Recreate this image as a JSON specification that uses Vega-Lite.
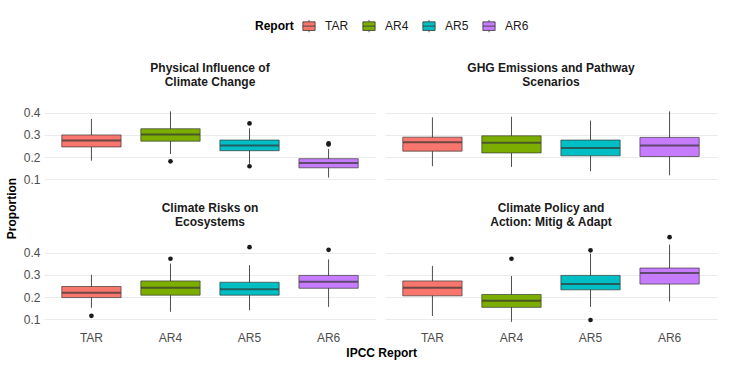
{
  "$schema": "https://vega.github.io/schema/vega-lite/v6.json",
  "background": "white",
  "padding": {"left": 6, "right": 8, "top": 19, "bottom": 6},
  "title": {"text": "IPCC Report", "orient": "bottom", "anchor": "middle", "font": "Liberation Sans", "fontSize": 12, "fontWeight": "bold", "color": "#000000", "offset": 5, "dx": 20},
  "data": {"values": [
    {"type":"box","panel":"Physical Influence of Climate Change","report":"TAR","lo":0.184,"q1":0.246,"med":0.275,"q3":0.300,"hi":0.372},
    {"type":"box","panel":"Physical Influence of Climate Change","report":"AR4","lo":0.214,"q1":0.272,"med":0.302,"q3":0.328,"hi":0.406},
    {"type":"box","panel":"Physical Influence of Climate Change","report":"AR5","lo":0.170,"q1":0.229,"med":0.253,"q3":0.277,"hi":0.330},
    {"type":"box","panel":"Physical Influence of Climate Change","report":"AR6","lo":0.108,"q1":0.152,"med":0.174,"q3":0.193,"hi":0.237},
    {"type":"box","panel":"GHG Emissions and Pathway Scenarios","report":"TAR","lo":0.159,"q1":0.227,"med":0.267,"q3":0.290,"hi":0.379},
    {"type":"box","panel":"GHG Emissions and Pathway Scenarios","report":"AR4","lo":0.156,"q1":0.219,"med":0.265,"q3":0.296,"hi":0.382},
    {"type":"box","panel":"GHG Emissions and Pathway Scenarios","report":"AR5","lo":0.137,"q1":0.206,"med":0.241,"q3":0.277,"hi":0.365},
    {"type":"box","panel":"GHG Emissions and Pathway Scenarios","report":"AR6","lo":0.118,"q1":0.203,"med":0.252,"q3":0.289,"hi":0.406},
    {"type":"box","panel":"Climate Risks on Ecosystems","report":"TAR","lo":0.152,"q1":0.198,"med":0.220,"q3":0.248,"hi":0.301},
    {"type":"box","panel":"Climate Risks on Ecosystems","report":"AR4","lo":0.134,"q1":0.209,"med":0.242,"q3":0.273,"hi":0.351},
    {"type":"box","panel":"Climate Risks on Ecosystems","report":"AR5","lo":0.141,"q1":0.209,"med":0.236,"q3":0.267,"hi":0.344},
    {"type":"box","panel":"Climate Risks on Ecosystems","report":"AR6","lo":0.156,"q1":0.240,"med":0.269,"q3":0.298,"hi":0.370},
    {"type":"box","panel":"Climate Policy and Action: Mitig & Adapt","report":"TAR","lo":0.115,"q1":0.206,"med":0.242,"q3":0.273,"hi":0.341},
    {"type":"box","panel":"Climate Policy and Action: Mitig & Adapt","report":"AR4","lo":0.089,"q1":0.154,"med":0.184,"q3":0.212,"hi":0.295},
    {"type":"box","panel":"Climate Policy and Action: Mitig & Adapt","report":"AR5","lo":0.156,"q1":0.233,"med":0.259,"q3":0.298,"hi":0.396},
    {"type":"box","panel":"Climate Policy and Action: Mitig & Adapt","report":"AR6","lo":0.180,"q1":0.259,"med":0.309,"q3":0.331,"hi":0.437},
    {"type":"out","panel":"Physical Influence of Climate Change","report":"AR4","value":0.181},
    {"type":"out","panel":"Physical Influence of Climate Change","report":"AR5","value":0.352},
    {"type":"out","panel":"Physical Influence of Climate Change","report":"AR5","value":0.159},
    {"type":"out","panel":"Physical Influence of Climate Change","report":"AR6","value":0.262},
    {"type":"out","panel":"Physical Influence of Climate Change","report":"AR6","value":0.257},
    {"type":"out","panel":"Climate Risks on Ecosystems","report":"TAR","value":0.116},
    {"type":"out","panel":"Climate Risks on Ecosystems","report":"AR4","value":0.373},
    {"type":"out","panel":"Climate Risks on Ecosystems","report":"AR5","value":0.425},
    {"type":"out","panel":"Climate Risks on Ecosystems","report":"AR6","value":0.413},
    {"type":"out","panel":"Climate Policy and Action: Mitig & Adapt","report":"AR4","value":0.373},
    {"type":"out","panel":"Climate Policy and Action: Mitig & Adapt","report":"AR5","value":0.411},
    {"type":"out","panel":"Climate Policy and Action: Mitig & Adapt","report":"AR5","value":0.097},
    {"type":"out","panel":"Climate Policy and Action: Mitig & Adapt","report":"AR6","value":0.470}
  ]},
  "vconcat": [
    {
      "title": {"text": "Proportion", "orient": "left", "anchor": "middle", "font": "Liberation Sans", "fontSize": 12, "fontWeight": "bold", "color": "#000000", "offset": 4, "dx": -6},
      "facet": {
        "field": "panel",
        "type": "nominal",
        "sort": ["Physical Influence of Climate Change","GHG Emissions and Pathway Scenarios","Climate Risks on Ecosystems","Climate Policy and Action: Mitig & Adapt"],
        "header": {
          "title": null,
          "labelExpr": "datum.value == 'Physical Influence of Climate Change' ? ['Physical Influence of', 'Climate Change'] : datum.value == 'GHG Emissions and Pathway Scenarios' ? ['GHG Emissions and Pathway', 'Scenarios'] : datum.value == 'Climate Risks on Ecosystems' ? ['Climate Risks on', 'Ecosystems'] : ['Climate Policy and', 'Action: Mitig & Adapt']",
          "labelFont": "Liberation Sans",
          "labelFontSize": 12,
          "labelFontWeight": "bold",
          "labelColor": "#1A1A1A",
          "labelLineHeight": 14,
          "labelPadding": 4
        }
      },
      "columns": 2,
      "spacing": {"column": 9, "row": 16},
      "spec": {
        "width": 332,
        "height": 93,
        "encoding": {
          "x": {
            "field": "report", "type": "nominal", "sort": ["TAR","AR4","AR5","AR6"],
            "scale": {"paddingInner": 0.25, "paddingOuter": 0.225},
            "axis": {"title": null, "labelAngle": 0, "bandPosition": 0.5, "labelPadding": 6}
          }
        },
        "layer": [
          {
            "transform": [{"filter": "datum.type == 'box'"}],
            "mark": {"type": "rule", "color": "#4D4D4D", "strokeWidth": 1},
            "encoding": {
              "y": {"field": "lo", "type": "quantitative", "title": null,
                    "scale": {"domain": [0.07, 0.489], "nice": false, "zero": false}},
              "y2": {"field": "hi"}
            }
          },
          {
            "transform": [{"filter": "datum.type == 'box'"}],
            "mark": {"type": "bar", "stroke": "#333333", "strokeWidth": 0.9, "strokeOpacity": 0.75},
            "encoding": {
              "y": {"field": "q1", "type": "quantitative"},
              "y2": {"field": "q3"},
              "fill": {
                "field": "report", "type": "nominal",
                "scale": {"domain": ["TAR","AR4","AR5","AR6"], "range": ["#F8766D","#7CAE00","#00BFC4","#C77CFF"]},
                "legend": {"title": "Report", "orient": "none", "legendX": 211, "legendY": -74}
              }
            }
          },
          {
            "transform": [{"filter": "datum.type == 'box'"}],
            "mark": {"type": "tick", "color": "#333333", "thickness": 2, "size": 59},
            "encoding": {
              "y": {"field": "med", "type": "quantitative"}
            }
          },
          {
            "transform": [{"filter": "datum.type == 'out'"}],
            "mark": {"type": "point", "filled": true, "color": "#1A1A1A", "size": 22, "opacity": 1},
            "encoding": {
              "y": {"field": "value", "type": "quantitative"}
            }
          }
        ]
      }
    }
  ],
  "config": {
    "font": "Liberation Sans",
    "view": {"stroke": null},
    "axis": {
      "domain": false,
      "ticks": false,
      "gridColor": "#EBEBEB",
      "gridWidth": 1.1,
      "labelFont": "Liberation Sans",
      "labelFontSize": 12,
      "labelColor": "#4D4D4D",
      "labelPadding": 4
    },
    "axisY": {
      "values": [0.1, 0.15, 0.2, 0.25, 0.3, 0.35, 0.4, 0.45],
      "labelExpr": "(datum.value * 100) % 10 == 0 ? format(datum.value, '.1f') : ''",
      "gridWidth": {"expr": "(datum.value * 100) % 10 == 0 ? 1.1 : 0.55"}
    },
    "legend": {
      "direction": "horizontal",
      "titleOrient": "left",
      "titleFont": "Liberation Sans",
      "titleFontSize": 12,
      "titleFontWeight": "bold",
      "titleColor": "#000000",
      "titlePadding": 8,
      "labelFont": "Liberation Sans",
      "labelFontSize": 12,
      "labelColor": "#1A1A1A",
      "symbolType": "M-1,-0.7H1V0.7H-1Z M-1,0H1 M0,-1V-0.7 M0,0.7V1",
      "symbolSize": 150,
      "symbolStrokeColor": "#333333",
      "symbolStrokeWidth": 0.8,
      "symbolOpacity": 1,
      "columnPadding": 12,
      "labelOffset": 9
    }
  }
}
